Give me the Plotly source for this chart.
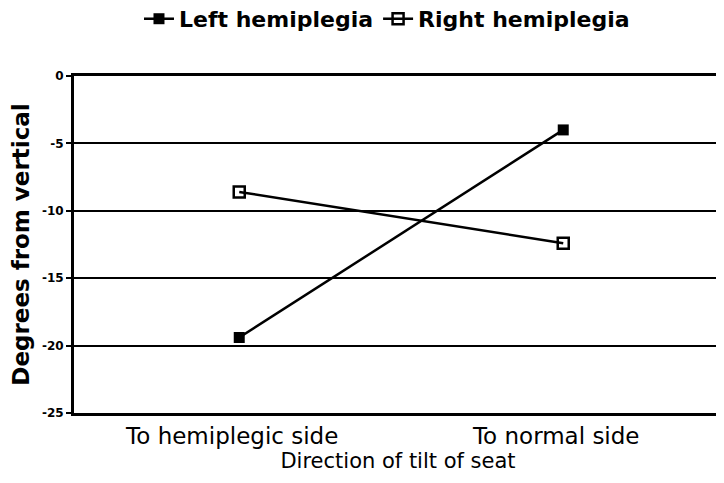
import plotly.graph_objects as go

categories = ["To hemiplegic side", "To normal side"]
left_hemiplegia = [-19.4, -4.0]
right_hemiplegia = [-8.6, -12.4]
y_ticks = [0, -5, -10, -15, -20, -25]

FONT = "'DejaVu Sans', Arial, sans-serif"

fig = go.Figure()
fig.add_trace(go.Scatter(
    x=categories, y=left_hemiplegia, name="Left hemiplegia",
    mode="lines+markers",
    line=dict(color="black", width=2.5),
    marker=dict(symbol="square", size=11, color="black"),
))
fig.add_trace(go.Scatter(
    x=categories, y=right_hemiplegia, name="Right hemiplegia",
    mode="lines+markers",
    line=dict(color="black", width=2.5),
    marker=dict(symbol="square-open", size=11, color="black", line=dict(width=2.5)),
))

fig.update_layout(
    width=716, height=475,
    margin=dict(l=66, r=2, t=68, b=70, autoexpand=False),
    paper_bgcolor="white", plot_bgcolor="white",
    font=dict(family=FONT, color="black"),
    showlegend=True,
    legend=dict(
        orientation="h", xanchor="center", x=0.483, yanchor="middle",
        yref="container", y=0.977,
        font=dict(size=22, family=FONT, weight="bold"),
        itemwidth=30, tracegroupgap=0, bgcolor="rgba(0,0,0,0)",
    ),
    xaxis=dict(
        type="category", range=[-0.51, 1.49], automargin=False,
        showline=True, linewidth=3, linecolor="black", mirror=True,
        showgrid=False, ticks="",
        tickfont=dict(size=23, family=FONT),
        ticklabelshift=-7,
        title=dict(text="Direction of tilt of seat", font=dict(size=21, family=FONT), standoff=0),
    ),
    yaxis=dict(
        range=[-25, 0], tickvals=y_ticks, ticktext=[str(v) for v in y_ticks],
        automargin=False,
        showline=True, linewidth=3, linecolor="black",
        showgrid=True, gridcolor="black", gridwidth=2,
        zeroline=False,
        ticks="outside", ticklen=5, tickwidth=2, tickcolor="black",
        tickfont=dict(size=12, family=FONT, weight="bold"),
        title=dict(text="Degrees from vertical", font=dict(size=23, family=FONT, weight="bold"), standoff=8),
    ),
    shapes=[dict(type="line", xref="paper", yref="paper", x0=1, x1=1, y0=0, y1=1,
                 line=dict(color="black", width=1.5))],
)

fig.write_html("out.html")
